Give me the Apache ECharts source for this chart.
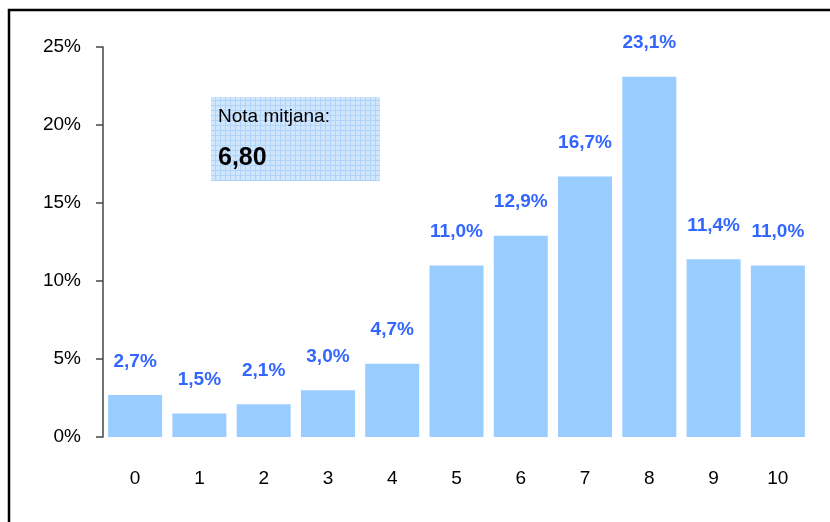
<!DOCTYPE html>
<html>
<head>
    <meta charset="utf-8" />
    <script src="https://cdn.jsdelivr.net/npm/echarts@6/dist/echarts.min.js"></script>
</head>
<body style="margin:0">
    <div id="main" style="width: 830px;height: 522px;"></div>
    <script type="text/javascript">
        var categories = ['0', '1', '2', '3', '4', '5', '6', '7', '8', '9', '10'];
        var shares = [2.7, 1.5, 2.1, 3.0, 4.7, 11.0, 12.9, 16.7, 23.1, 11.4, 11.0];
        var yTicks = [0, 5, 10, 15, 20, 25];
        var boxTitle = 'Nota mitjana:';
        var boxValue = '6,80';

        // small grid pattern for the note box
        var pat = document.createElement('canvas');
        pat.width = 5; pat.height = 5;
        var pc = pat.getContext('2d');
        pc.fillStyle = '#d0e6fd';
        pc.fillRect(0, 0, 5, 5);
        pc.fillStyle = '#b0d3f8';
        pc.fillRect(0, 0, 5, 1);
        pc.fillRect(0, 0, 1, 5);

        var chartDom = document.getElementById('main');
        var myChart = echarts.init(chartDom);
        var font = 'Liberation Sans, Arial, sans-serif';

        var option = {
            animation: false,
            grid: { left: 103, right: 20, top: 47, bottom: 85 },
            xAxis: {
                type: 'category',
                data: categories,
                axisLine: { show: false },
                axisTick: { show: false },
                axisLabel: { color: '#000', fontSize: 19, fontFamily: font, margin: 32 }
            },
            yAxis: {
                type: 'value',
                min: yTicks[0],
                max: yTicks[yTicks.length - 1],
                interval: 5,
                splitLine: { show: false },
                axisLine: { show: true, lineStyle: { color: '#444', width: 1.5 } },
                axisTick: { show: true, inside: false, length: 7, lineStyle: { color: '#444', width: 1.5 } },
                axisLabel: {
                    color: '#000', fontSize: 19, fontFamily: font, margin: 22,
                    formatter: function (v) { return v + '%'; }
                }
            },
            series: [{
                type: 'bar',
                data: shares,
                barCategoryGap: '16%',
                itemStyle: { color: '#99ccff' },
                label: {
                    show: true,
                    position: 'top',
                    distance: 24,
                    color: '#3366ff',
                    fontSize: 19,
                    fontWeight: 'bold',
                    fontFamily: font,
                    formatter: function (p) { return p.value.toFixed(1).replace('.', ',') + '%'; }
                }
            }],
            graphic: [
                {
                    type: 'rect',
                    shape: { x: 9, y: 10, width: 840, height: 540 },
                    style: { fill: 'none', stroke: '#000', lineWidth: 2.5 },
                    silent: true
                },
                {
                    type: 'rect',
                    shape: { x: 211, y: 97, width: 169, height: 84 },
                    style: { fill: { image: pat, repeat: 'repeat' } },
                    silent: true
                },
                {
                    type: 'text',
                    x: 218, y: 107,
                    style: { text: boxTitle, fill: '#000', fontSize: 19, fontFamily: font }
                },
                {
                    type: 'text',
                    x: 218, y: 146,
                    style: { text: boxValue, fill: '#000', fontSize: 25, fontWeight: 'bold', fontFamily: font }
                }
            ]
        };
        myChart.setOption(option);
    </script>
</body>
</html>
